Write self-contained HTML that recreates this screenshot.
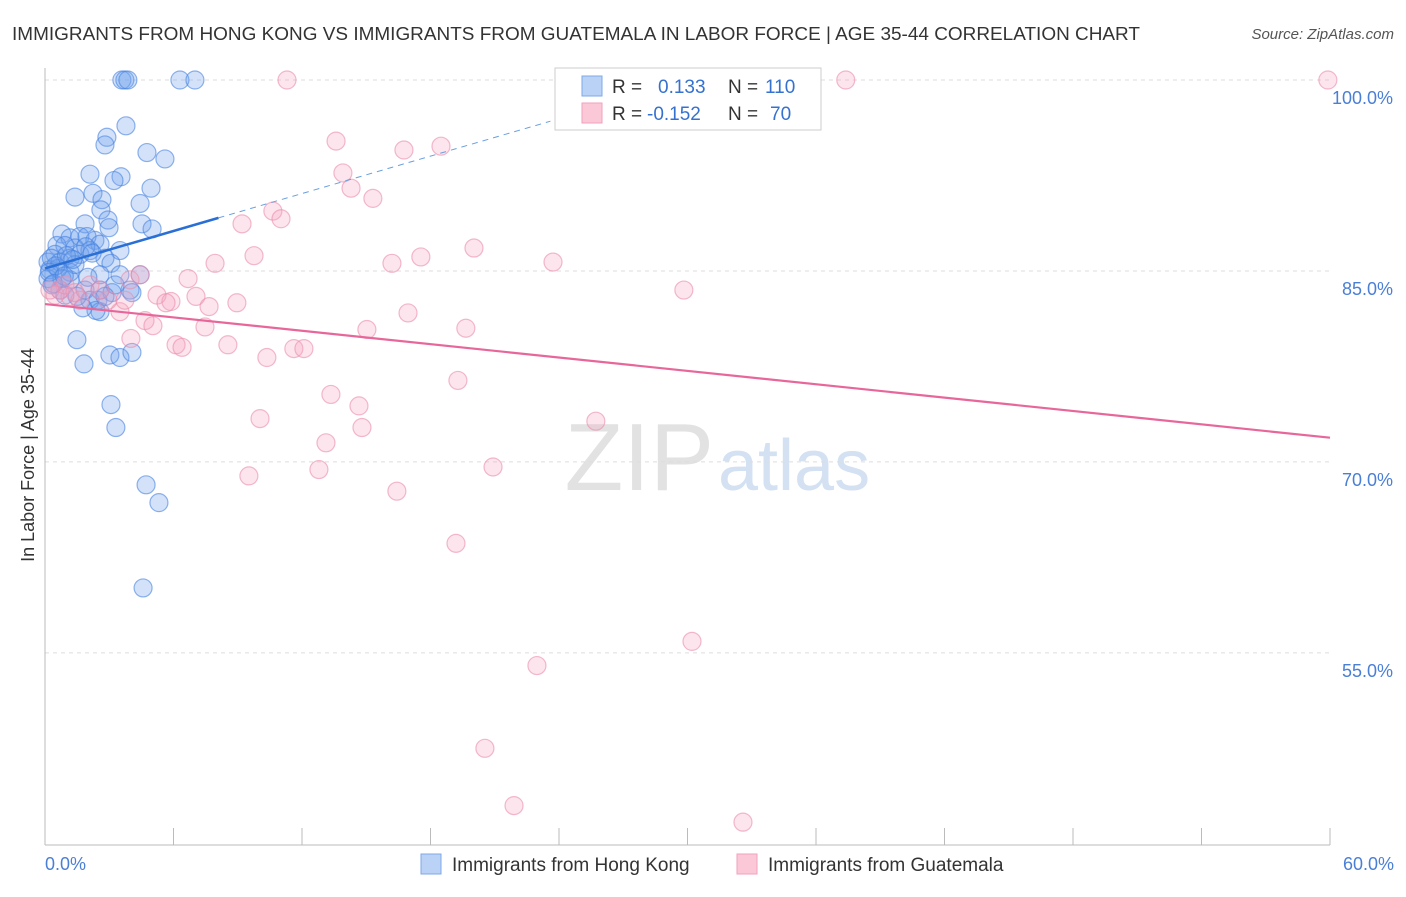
<!DOCTYPE html>
<html><head><meta charset="utf-8"><style>
body{margin:0;background:#fff;font-family:"Liberation Sans",sans-serif}
svg text{font-family:"Liberation Sans",sans-serif}
</style></head><body>
<svg id="chart" width="1406" height="892" xmlns="http://www.w3.org/2000/svg">
<text x="12" y="40" font-size="18" fill="#333" textLength="1128" lengthAdjust="spacingAndGlyphs">IMMIGRANTS FROM HONG KONG VS IMMIGRANTS FROM GUATEMALA IN LABOR FORCE | AGE 35-44 CORRELATION CHART</text>
<text x="1394" y="39" font-size="15" fill="#555" text-anchor="end" font-style="italic">Source: ZipAtlas.com</text>
<text x="714" y="490" font-size="96" fill="#e2e2e2" text-anchor="end" font-family="Liberation Serif">ZIP</text>
<text x="718" y="490" font-size="72" fill="#d3e1f3">atlas</text>
<g id="grid"></g>
<g id="axes"></g>
<g id="pts"></g>
<g id="lines"></g>
<g>
<rect x="555" y="68" width="266" height="62" fill="#fff" stroke="#ccc"/>
<rect x="582" y="76" width="20" height="20" fill="#b9d2f5" stroke="#7fa9e6"/>
<rect x="582" y="103" width="20" height="20" fill="#fbc8d8" stroke="#f0a2bb"/>
<text x="612" y="93" font-size="19" fill="#333">R =</text>
<text x="658" y="93" font-size="19" fill="#3572d0">0.133</text>
<text x="728" y="93" font-size="19" fill="#333">N =</text>
<text x="765" y="93" font-size="19" fill="#3572d0">110</text>
<text x="612" y="120" font-size="19" fill="#333">R =</text>
<text x="647" y="120" font-size="19" fill="#3572d0">-0.152</text>
<text x="728" y="120" font-size="19" fill="#333">N =</text>
<text x="770" y="120" font-size="19" fill="#3572d0">70</text>
</g>
<text x="34" y="455" font-size="18" fill="#333" text-anchor="middle" transform="rotate(-90 34 455)">In Labor Force | Age 35-44</text>
<text x="45" y="870" font-size="18" fill="#4a7fd6">0.0%</text>
<text x="1394" y="870" font-size="18" fill="#4a7fd6" text-anchor="end">60.0%</text>
<rect x="421" y="854" width="20" height="20" fill="#b9d2f5" stroke="#7fa9e6"/>
<text x="452" y="871" font-size="19" fill="#333">Immigrants from Hong Kong</text>
<rect x="737" y="854" width="20" height="20" fill="#fbc8d8" stroke="#f0a2bb"/>
<text x="768" y="871" font-size="19" fill="#333">Immigrants from Guatemala</text>
</svg>
<script>
const yTicks=[100,85,70,55];
const yTickLabels=["100.0%","85.0%","70.0%","55.0%"];
const xTickVals=[0,6,12,18,24,30,36,42,48,54,60];
const hkX=[3.59,3.73,3.87,6.30,7.00,3.78,2.89,2.80,4.76,5.60,2.10,3.55,3.22,4.95,2.24,1.40,2.66,4.44,2.61,2.94,1.87,4.53,2.99,5.00,0.79,1.17,1.63,2.33,1.96,2.57,3.50,0.56,0.93,1.40,0.47,0.14,0.23,0.70,1.17,1.63,2.10,2.80,3.08,4.44,2.57,3.50,0.14,0.33,0.70,1.17,1.87,2.10,2.47,2.57,2.38,1.77,3.97,4.06,1.49,1.82,3.03,3.50,4.06,3.08,3.31,4.72,5.32,4.58,1.17,1.40,2.57,3.13,0.93,3.27,0.61,0.79,0.3,0.5,1.0,1.3,0.2,0.4,1.9,2.2,1.5,2.0,0.9,2.8];
const hkY=[100,100,100,100,100,96.4,95.5,94.9,94.3,93.8,92.6,92.4,92.1,91.5,91.1,90.8,90.6,90.3,89.8,89.0,88.7,88.7,88.4,88.3,87.9,87.6,87.7,87.4,87.7,87.1,86.6,87.0,87.0,86.8,86.3,85.7,85.1,85.7,86.0,86.3,86.6,86.0,85.6,84.7,84.7,84.7,84.4,83.9,83.5,84.3,83.5,82.7,82.7,81.8,81.9,82.1,83.5,83.3,79.6,77.7,78.4,78.2,78.6,74.5,72.7,68.2,66.8,60.1,84.9,85.5,83.5,83.3,83.1,83.9,85.2,84.4,86.0,85.4,86.2,85.9,84.9,84.0,86.9,86.4,83.0,84.5,84.6,83.0];
const gtX=[11.30,37.39,59.90,13.59,16.76,18.49,13.91,14.29,15.31,10.64,11.02,9.20,20.03,9.76,17.55,16.20,23.72,7.94,6.68,29.83,5.23,5.88,7.05,8.96,7.66,5.65,4.67,5.04,7.47,16.95,19.65,15.03,6.12,6.40,8.54,10.36,11.62,12.09,19.28,13.35,14.66,14.80,10.04,13.12,25.72,12.79,20.92,9.52,16.43,19.19,30.21,22.97,20.54,21.90,32.59,4.01,3.50,2.94,3.97,0.70,1.17,1.63,0.47,2.10,3.73,4.44,2.57,0.93,0.23,1.40];
const gtY=[100,100,100,95.2,94.5,94.8,92.7,91.5,90.7,89.7,89.1,88.7,86.8,86.2,86.1,85.6,85.7,85.6,84.4,83.5,83.1,82.6,83.0,82.5,82.2,82.5,81.1,80.7,80.6,81.7,80.5,80.4,79.2,79.0,79.2,78.2,78.9,78.9,76.4,75.3,74.4,72.7,73.4,71.5,73.2,69.4,69.6,68.9,67.7,63.6,55.9,54.0,47.5,43.0,41.7,79.7,81.8,82.7,84.3,83.5,83.0,82.7,83.1,83.9,82.7,84.7,83.5,83.9,83.5,83.3];
const hkTrend=[85.2,0.49];
const gtTrend=[82.4,-0.175];
const NS="http://www.w3.org/2000/svg";
const X=v=>45+v*(1285/60);
const Y=v=>80+(100-v)*12.73;
function mk(t,a,p){const e=document.createElementNS(NS,t);for(const k in a)e.setAttribute(k,a[k]);document.getElementById(p).appendChild(e);return e;}
yTicks.forEach((t,i)=>{
 const l=mk('line',{x1:45,x2:1330,y1:Y(t),y2:Y(t),stroke:'#ddd','stroke-dasharray':'4,4'},'grid');
 
 
 const tx=mk('text',{x:1393,y:Y(t)+24,'font-size':18,fill:'#4a7fd6','text-anchor':'end'},'grid');
 tx.textContent=yTickLabels[i];
 
 
});
const ax=mk('line',{x1:45,x2:1330,y1:845,y2:845,stroke:'#bbb'},'axes');


const ay=mk('line',{x1:45,x2:45,y1:68,y2:845,stroke:'#bbb'},'axes');


xTickVals.forEach(v=>{
 const t=mk('line',{x1:X(v),x2:X(v),y1:828,y2:845,stroke:'#bbb'},'axes');
 
 
});
function pts(xs,ys,fill,stroke,name){xs.forEach((x,i)=>{
 const c=mk('circle',{cx:X(x),cy:Y(ys[i]),r:9,fill:fill,stroke:stroke,'stroke-width':1.2},'pts');
 
 
});}
pts(hkX,hkY,'rgba(110,160,235,0.3)','rgba(70,130,225,0.6)','hong-kong-point');
pts(gtX,gtY,'rgba(245,160,190,0.28)','rgba(235,140,172,0.6)','guatemala-point');
const l1=mk('line',{x1:X(0),y1:Y(hkTrend[0]),x2:X(8.1),y2:Y(hkTrend[0]+hkTrend[1]*8.1),stroke:'#2a6fd6','stroke-width':2.5},'lines');


const l2=mk('line',{x1:X(8.1),y1:Y(hkTrend[0]+hkTrend[1]*8.1),x2:X(23.6),y2:Y(hkTrend[0]+hkTrend[1]*23.6),stroke:'#6a9fe0','stroke-width':1,'stroke-dasharray':'6,5'},'lines');


const l3=mk('line',{x1:X(0),y1:Y(gtTrend[0]),x2:X(60),y2:Y(gtTrend[0]+gtTrend[1]*60),stroke:'#e8679a','stroke-width':2.2},'lines');


</script>
</body></html>
